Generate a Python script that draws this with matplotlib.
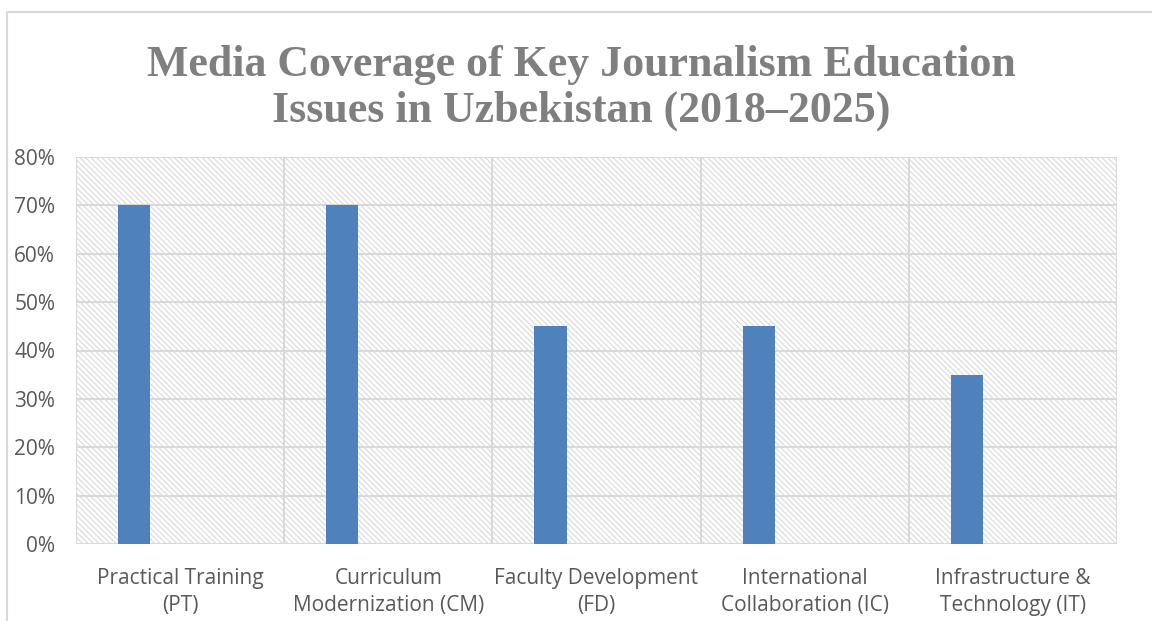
import matplotlib.pyplot as plt
import numpy as np
from matplotlib.patches import Rectangle
from matplotlib.ticker import PercentFormatter

# data
categories = ["Practical Training\n(PT)", "Curriculum\nModernization (CM)",
              "Faculty Development\n(FD)", "International\nCollaboration (IC)",
              "Infrastructure &\nTechnology (IT)"]
coverage = [0.70, 0.70, 0.45, 0.45, 0.35]
y_ticks = [0, 0.1, 0.2, 0.3, 0.4, 0.5, 0.6, 0.7, 0.8]

W, H = 1152, 621
fig = plt.figure(figsize=(W / 100, H / 100), dpi=100)
plt.rcParams['hatch.linewidth'] = 0.8
plt.rcParams['hatch.color'] = '#d9d9d9'

# outer chart frame
fig.add_artist(Rectangle((7 / W, -0.1), 1.2, (H - 12) / H + 0.1, transform=fig.transFigure,
                         fill=False, edgecolor='#d9d9d9', linewidth=1.5))

left, right, top, bottom = 76, 1117, 157, 544
ax = fig.add_axes([left / W, (H - bottom) / H, (right - left) / W, (bottom - top) / H])

# hatched plot area
ax.add_patch(Rectangle((0, 0), 1, 1, transform=ax.transAxes, facecolor='white',
                       hatch='\\\\\\\\\\\\', edgecolor='#d9d9d9', linewidth=0, zorder=0))

x = np.arange(len(categories))
ax.bar(x - 0.221, coverage, width=0.154, color='#4f81bd', zorder=3)

ax.set_xlim(-0.5, len(categories) - 0.5)
ax.set_ylim(0, 0.8)
ax.set_yticks(y_ticks)
ax.yaxis.set_major_formatter(PercentFormatter(1.0, decimals=0))
ax.set_xticks(x)
ax.set_xticklabels(categories)

for yv in y_ticks:
    ax.axhline(yv, color='#d9d9d9', linewidth=1.5, zorder=1)
for xv in np.arange(len(categories) + 1) - 0.5:
    ax.axvline(xv, color='#d9d9d9', linewidth=1.5, zorder=1)

for s in ax.spines.values():
    s.set_visible(False)
ax.tick_params(length=0, colors='#595959', labelsize=15)
ax.tick_params(axis='y', pad=15)
ax.tick_params(axis='x', pad=17)
for lbl in ax.get_xticklabels() + ax.get_yticklabels():
    lbl.set_fontfamily('Open Sans')
for lbl in ax.get_xticklabels():
    lbl.set_linespacing(1.4)

fig.text(581 / W, 1 - 88 / H, "Media Coverage of Key Journalism Education\nIssues in Uzbekistan (2018\u20132025)",
         ha='center', va='center', fontsize=31.6, fontweight='bold', family='Liberation Serif',
         color='#7f7f7f', linespacing=1.2)

fig.savefig('out.png', dpi=100)
